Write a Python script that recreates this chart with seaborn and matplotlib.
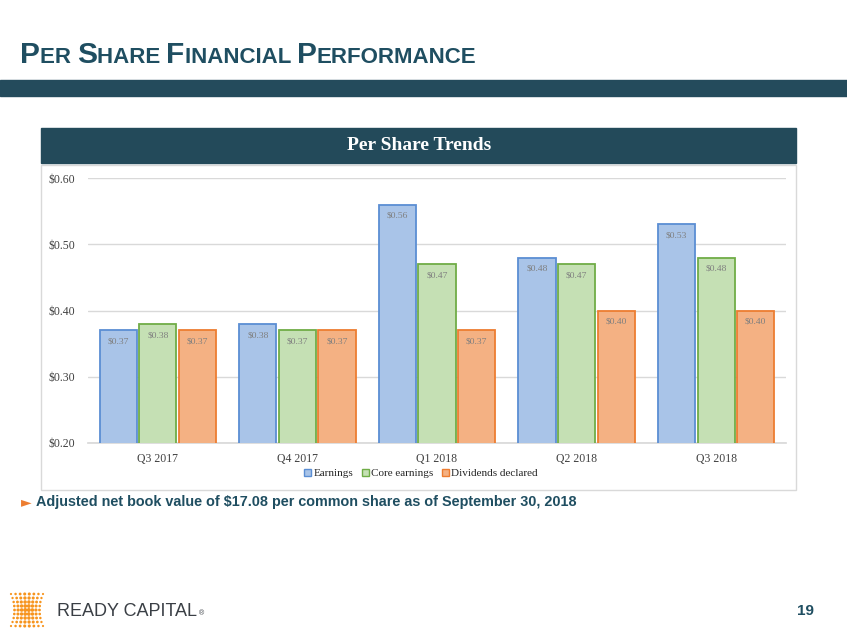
import matplotlib
matplotlib.use("Agg")
import matplotlib.pyplot as plt
import numpy as np
import pandas as pd
import seaborn as sns
from matplotlib.patches import Patch, Rectangle
from matplotlib.offsetbox import TextArea, HPacker, AnnotationBbox

# data
quarters = ["Q3 2017", "Q4 2017", "Q1 2018", "Q2 2018", "Q3 2018"]
earnings = [0.37, 0.38, 0.56, 0.48, 0.53]
core_earnings = [0.38, 0.37, 0.47, 0.47, 0.48]
dividends = [0.37, 0.37, 0.37, 0.40, 0.40]
series_names = ["Earnings", "Core earnings", "Dividends declared"]
y_ticks = [0.20, 0.30, 0.40, 0.50, 0.60]

TEAL = "#1F4E61"
BAND = "#244B5C"
FILLS = ["#A9C4E8", "#C5E0B4", "#F4B183"]
EDGES = ["#5B8ED3", "#70AD47", "#ED7D31"]
SERIF = "Liberation Serif"
SANS = "Liberation Sans"

df = pd.DataFrame({
    "quarter": quarters * 3,
    "series": np.repeat(series_names, len(quarters)),
    "value": earnings + core_earnings + dividends,
})

sns.set_theme(style="white")
plt.rcParams["font.family"] = [SANS, "DejaVu Sans"]

W, H = 847, 635
fig = plt.figure(figsize=(W / 100, H / 100), dpi=100)
fig.patch.set_facecolor("white")

# page layer in pixel coordinates (y down) for the slide decorations
page = fig.add_axes([0, 0, 1, 1], zorder=0)
page.set_xlim(0, W)
page.set_ylim(H, 0)
page.axis("off")

page.add_patch(Rectangle((0, 80), W, 16, color=BAND))
page.add_patch(Rectangle((41, 165), 755, 325, facecolor="white", edgecolor="#D9D9D9", lw=1))
page.add_patch(Rectangle((41, 128), 755, 35, color="#234A5A"))
page.text(419, 146, "Per Share Trends", color="white", fontsize=14,
          fontweight="bold", family=SERIF, ha="center", va="center")

# small-caps slide title
pieces = [("P", 21.5), ("ER ", 16), ("S", 21.5), ("HARE ", 16), ("F", 21.5),
          ("INANCIAL ", 16), ("P", 21.5), ("ERFORMANCE", 16)]
boxes = [TextArea(t, textprops=dict(color=TEAL, fontsize=s, fontweight="bold", family=SANS))
         for t, s in pieces]
pack = HPacker(children=boxes, align="baseline", pad=0, sep=0)
page.add_artist(AnnotationBbox(pack, (20, 55), xycoords="data",
                               box_alignment=(0, 0.5), frameon=False))

# bullet line
page.text(21, 502, "\u25BA", color="#ED7D31", fontsize=10, va="center",
          family="DejaVu Sans")
page.text(36, 502,
          "Adjusted net book value of $17.08 per common share as of September 30, 2018",
          color=TEAL, fontsize=10.4, fontweight="bold", va="center", family=SANS)

# footer logo: orange dot cluster (pinched at the middle) plus wordmark
gx, gy = np.meshgrid(np.linspace(-1, 1, 8), np.linspace(-1, 1, 9))
pinch = 0.78 + 0.22 * gy ** 2
sizes = 9 * (1 - 0.55 * np.abs(gx)) * (1 - 0.4 * np.abs(gy))
page.scatter(27 + gx * 16 * pinch, 610 + gy * 16, s=sizes, color="#F7941D", lw=0)
page.text(57, 611, "READY CAPITAL", color="#3A3F45", fontsize=13, va="center",
          family=SANS)
page.text(199, 614, "\u00AE", color="#3A3F45", fontsize=5, va="center", family=SANS)
page.text(805, 611, "19", color=TEAL, fontsize=11, fontweight="bold",
          ha="center", va="center", family=SANS)

# chart
ax = fig.add_axes([88 / W, 1 - 443 / H, 698 / W, 265 / H], zorder=2)
sns.barplot(data=df, x="quarter", y="value", hue="series", order=quarters,
            hue_order=series_names, palette=FILLS, width=0.85, gap=0.06,
            saturation=1, legend=False, ax=ax, zorder=3)

for i, cont in enumerate(ax.containers):
    for bar in cont:
        bar.set_edgecolor(EDGES[i])
        bar.set_linewidth(1.3)
    ax.bar_label(cont, labels=[f"${v:.2f}" for v in cont.datavalues],
                 padding=-11, fontsize=6.8, color="#7F7F7F", family=SERIF)

ax.set_ylim(0.20, 0.60)
ax.set_yticks(y_ticks)
ax.set_yticklabels([f"${v:.2f}" for v in y_ticks], family=SERIF, fontsize=8.5,
                   color="#404040")
ax.tick_params(axis="y", length=0, pad=9)
ax.tick_params(axis="x", length=0, pad=7, labelsize=8.5, labelcolor="#404040")
for lab in ax.get_xticklabels():
    lab.set_family(SERIF)
ax.grid(axis="y", color="#D9D9D9", lw=1, zorder=0)
ax.set_axisbelow(True)
ax.set_xlabel("")
ax.set_ylabel("")
for side in ["top", "right", "left"]:
    ax.spines[side].set_visible(False)
ax.spines["bottom"].set_color("#D9D9D9")
ax.set_facecolor("none")

handles = [Patch(facecolor=f, edgecolor=e, lw=1) for f, e in zip(FILLS, EDGES)]
ax.legend(handles, series_names, loc="center", bbox_to_anchor=(0.477, -0.116),
          ncol=3, frameon=False, handlelength=0.6, handleheight=0.6,
          handletextpad=0.2, columnspacing=0.8, prop=dict(family=SERIF, size=8))

fig.savefig("out.png", dpi=100, facecolor="white")
